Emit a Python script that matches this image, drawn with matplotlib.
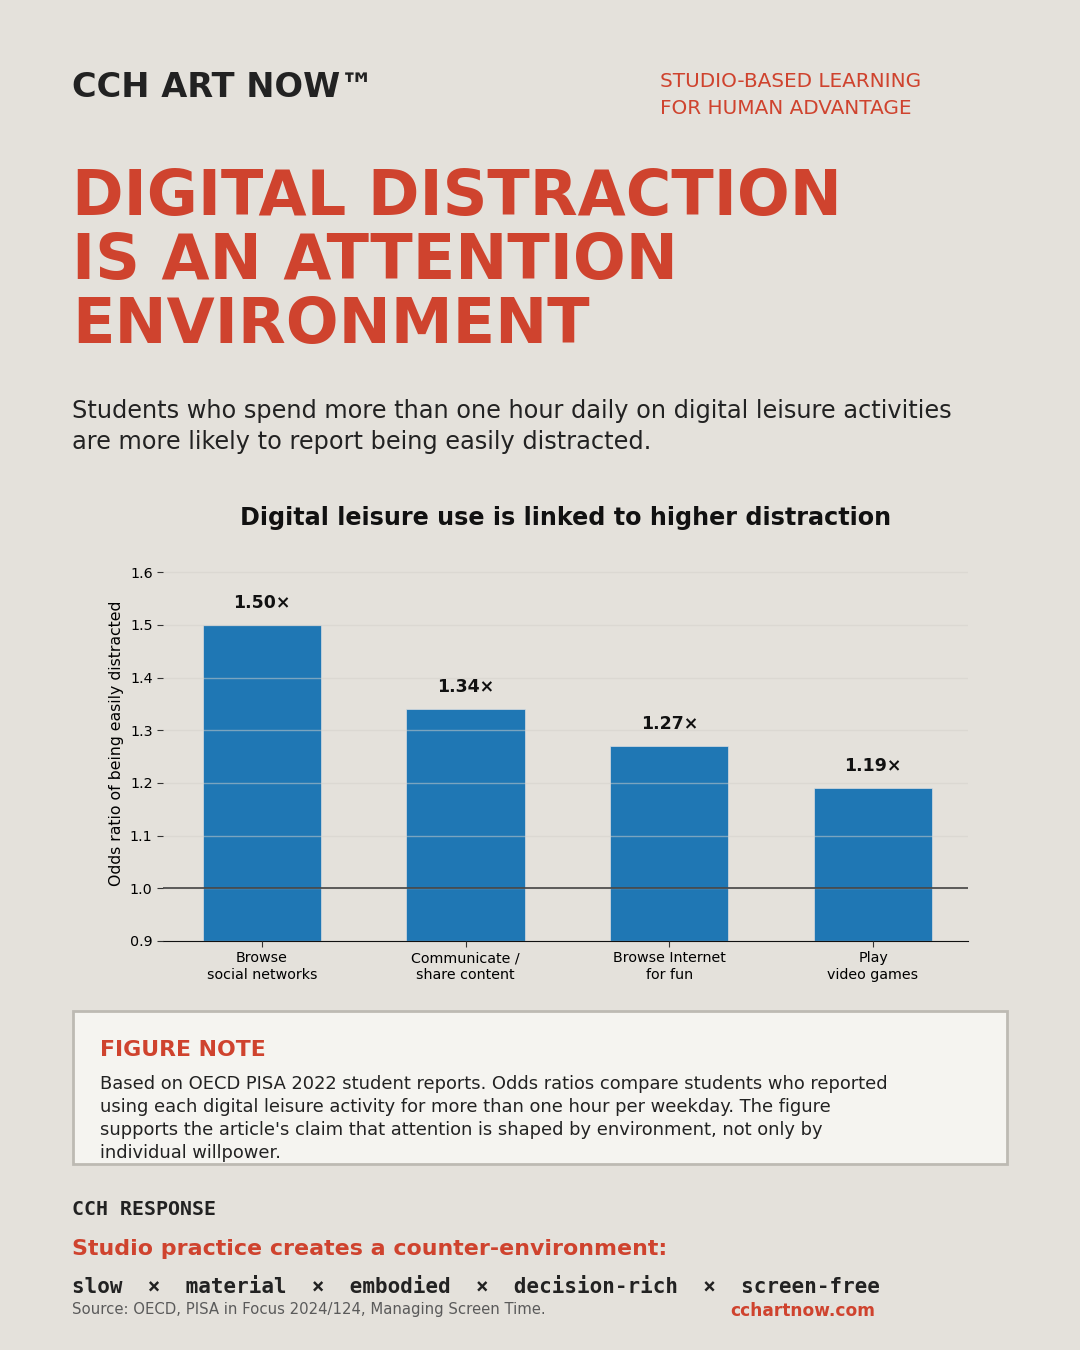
import matplotlib
matplotlib.use("Agg")
import matplotlib.pyplot as plt
from matplotlib.patches import Rectangle

categories = ["Browse\nsocial networks", "Communicate /\nshare content",
              "Browse Internet\nfor fun", "Play\nvideo games"]
odds_ratios = [1.50, 1.34, 1.27, 1.19]
value_labels = ["1.50×", "1.34×", "1.27×", "1.19×"]
yticks = [0.9, 1.0, 1.1, 1.2, 1.3, 1.4, 1.5, 1.6]

BG = "#e4e1db"
RED = "#cf432e"
DARK = "#222222"
BLUE = "#1f77b4"

W, H = 1080, 1350
fig = plt.figure(figsize=(W / 100, H / 100), dpi=100, facecolor=BG)
plt.rcParams["font.family"] = ["DejaVu Sans"]

def fy(px):
    return 1 - px / H

def fx(px):
    return px / W

# Header
fig.text(fx(72), fy(97), "CCH ART NOW™", fontsize=24.2, fontweight="bold",
         color=DARK, va="baseline", ha="left")
fig.text(fx(660), fy(87), "STUDIO-BASED LEARNING", fontsize=14.4,
         color=RED, va="baseline", ha="left")
fig.text(fx(660), fy(114), "FOR HUMAN ADVANTAGE", fontsize=14.4,
         color=RED, va="baseline", ha="left")

# Headline
for i, line in enumerate(["DIGITAL DISTRACTION", "IS AN ATTENTION", "ENVIRONMENT"]):
    fig.text(fx(72), fy(215 + 64 * i), line, fontsize=44.7, fontweight="bold",
             color=RED, va="baseline", ha="left")

# Subtitle
fig.text(fx(72), fy(418), "Students who spend more than one hour daily on digital leisure activities",
         fontsize=17.3, color=DARK, va="baseline", ha="left")
fig.text(fx(72), fy(449), "are more likely to report being easily distracted.",
         fontsize=17.3, color=DARK, va="baseline", ha="left")

# Chart
ymax = max(odds_ratios) * 1.1
ax = fig.add_axes([fx(163), fy(941), fx(968) - fx(163), fy(546) - fy(941)])
ax.set_facecolor(BG)
x = list(range(len(categories)))
ax.bar(x, [v - 0.9 for v in odds_ratios], bottom=0.9, width=0.58, color=BLUE,
       edgecolor="#d9dde0", linewidth=0.5, zorder=1)
ax.set_ylim(0.9, ymax)
ax.set_yticks(yticks)
ax.set_yticklabels([f"{t:.1f}" for t in yticks], fontsize=10.3)
ax.set_xticks(x)
ax.set_xticklabels(categories, fontsize=10.3)
ax.yaxis.grid(True, color="#d4d1cb", linewidth=1, alpha=0.5, zorder=2)
ax.set_axisbelow(False)
ax.axhline(1.0, color="#444444", linewidth=1.2, zorder=3)
for s in ["top", "right", "left"]:
    ax.spines[s].set_visible(False)
ax.spines["bottom"].set_color("#111111")
ax.tick_params(axis="y", length=4, color="#333333")
ax.tick_params(axis="x", length=4, color="#333333")
ax.set_ylabel("Odds ratio of being easily distracted", fontsize=11.3)
for xi, v, lab in zip(x, odds_ratios, value_labels):
    ax.text(xi, v + 0.025, lab, ha="center", va="bottom", fontsize=12.5,
            fontweight="bold", color="#111111")
ax.set_title("Digital leisure use is linked to higher distraction", fontsize=17.2,
             fontweight="bold", pad=15, color="#111111")
ax.set_xlim(-0.485, 3.466)

# Figure note box
box = Rectangle((fx(73), fy(1164)), fx(1007) - fx(73), fy(1011) - fy(1164),
                transform=fig.transFigure, facecolor="#f5f4f0", edgecolor="#bdbab3",
                linewidth=2)
fig.patches.append(box)
fig.text(fx(100), fy(1056), "FIGURE NOTE", fontsize=15.8, fontweight="bold",
         color=RED, va="baseline", ha="left")
note_lines = [
    "Based on OECD PISA 2022 student reports. Odds ratios compare students who reported",
    "using each digital leisure activity for more than one hour per weekday. The figure",
    "supports the article's claim that attention is shaped by environment, not only by",
    "individual willpower.",
]
for i, line in enumerate(note_lines):
    fig.text(fx(100), fy(1089 + 23 * i), line, fontsize=12.9, color=DARK,
             va="baseline", ha="left")

# CCH response
fig.text(fx(72), fy(1215), "CCH RESPONSE", fontsize=14.3, fontweight="bold",
         family="DejaVu Sans Mono", color=DARK, va="baseline", ha="left")
fig.text(fx(72), fy(1255), "Studio practice creates a counter-environment:", fontsize=15.9,
         fontweight="bold", color=RED, va="baseline", ha="left")
fig.text(fx(72), fy(1293), "slow  ×  material  ×  embodied  ×  decision-rich  ×  screen-free",
         fontsize=15, fontweight="bold", family="DejaVu Sans Mono", color=DARK,
         va="baseline", ha="left")
fig.text(fx(72), fy(1314), "Source: OECD, PISA in Focus 2024/124, Managing Screen Time.",
         fontsize=10.7, color="#5a5a5a", va="baseline", ha="left")
fig.text(fx(730), fy(1316), "cchartnow.com", fontsize=12.25, fontweight="bold",
         color=RED, va="baseline", ha="left")

fig.savefig("out.png", dpi=100, facecolor=BG)
